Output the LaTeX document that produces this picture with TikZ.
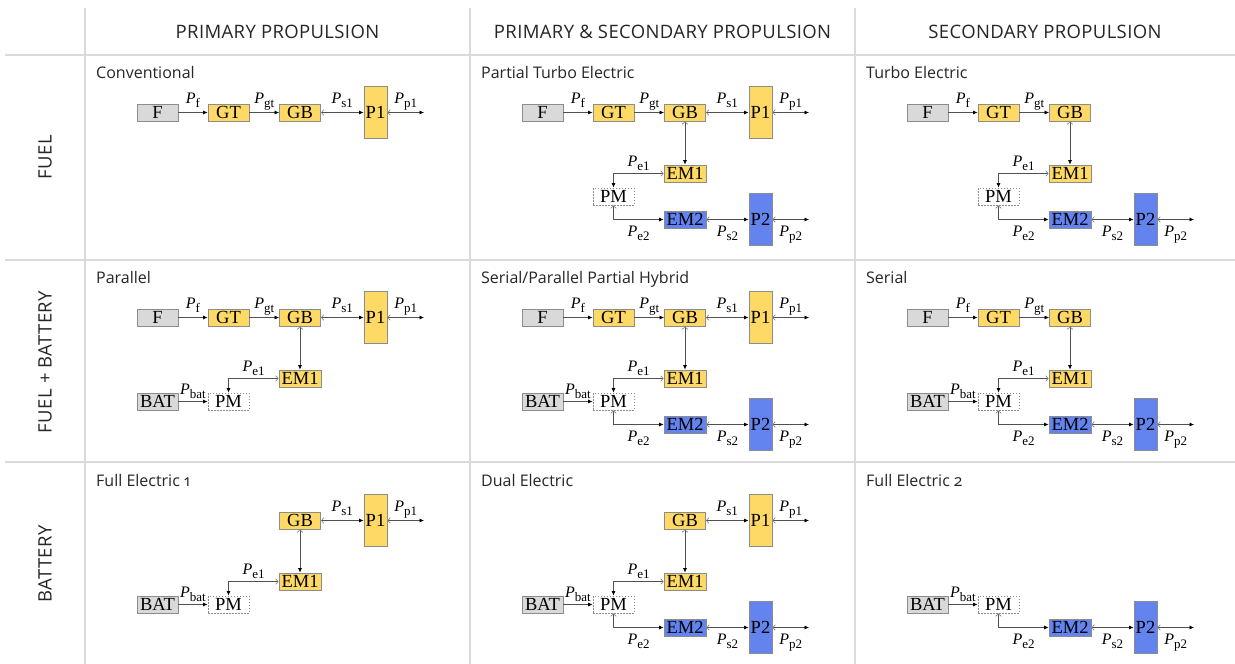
\documentclass[tikz,border=0pt]{standalone}
\usepackage{fontspec}
\setmainfont{Open Sans}[Numbers=OldStyle]
\newfontfamily\boxserif{Liberation Serif}
\usetikzlibrary{arrows.meta}
\definecolor{ylw}{HTML}{FFD966}
\definecolor{blu}{HTML}{6383EF}
\definecolor{gry}{HTML}{D9D9D9}
\definecolor{bord}{HTML}{8C8C8C}
\definecolor{gridc}{HTML}{DADADA}
\definecolor{lin}{HTML}{505050}
\definecolor{txt}{HTML}{262626}
\newcommand\Pl[1]{{\boxserif\fontsize{16}{16}\selectfont\itshape P}\raisebox{-3.5pt}{\boxserif\fontsize{13}{13}\selectfont #1}}
\tikzset{
  blk/.style={draw=bord, line width=0.8pt, inner sep=0pt, minimum width=41pt, minimum height=17pt, font=\boxserif\fontsize{18.5}{18.5}\selectfont},
  grybox/.style={blk, fill=gry},
  ylwbox/.style={blk, fill=ylw},
  blubox/.style={blk, fill=blu},
  pmbox/.style={blk, dash pattern=on 1.5pt off 1.5pt, fill=white},
  prop/.style={blk, minimum width=23pt, minimum height=52pt},
  uni/.style={draw=lin, line width=0.7pt, -{Latex[length=4.5pt,width=4pt,color=black]}},
  bi/.style={draw=lin, line width=0.7pt, {Straight Barb[length=2.5pt,width=5.5pt,line width=0.6pt,color=gray]}-{Latex[length=4.5pt,width=4pt,color=black]}},
  lab/.style={anchor=base, inner sep=0pt, yshift=9pt},
  labe/.style={anchor=base, inner sep=0pt, yshift=7pt},
  labb/.style={anchor=base, inner sep=0pt, yshift=-17pt},
  title/.style={anchor=base west, inner sep=0pt, text=txt, font=\fontsize{16}{16}\selectfont},
  hdr/.style={inner sep=0pt, text=txt, font=\fontsize{18.5}{18.5}\selectfont\addfontfeatures{LetterSpace=2}},
  gridline/.style={draw=gridc, line width=1.3pt},
}
\newcommand\partF[1]{%
  \node[grybox] (#1F) at (72.5,57.5) {F};
  \node[ylwbox] (#1GT) at (143.5,57.5) {GT};
  \draw[uni] (#1F) -- node[lab]{\Pl{f}} (#1GT);}
\newcommand\partGB[1]{\node[ylwbox] (#1GB) at (215,57.5) {GB};}
\newcommand\partGTGB[1]{\draw[uni] (#1GT) -- node[lab]{\Pl{gt}} (#1GB);}
\newcommand\partPone[1]{%
  \node[prop, fill=ylw] (#1P1) at (290.5,57.5) {P1};
  \coordinate (#1O1) at (339,57.5);
  \draw[bi] (#1GB) -- node[lab]{\Pl{s1}} (#1P1);
  \draw[bi] (#1P1) -- node[lab]{\Pl{p1}} (#1O1);}
\newcommand\partEMone[1]{%
  \node[ylwbox, minimum width=42pt] (#1EM1) at (215,118.5) {EM1};
  \draw[bi] (#1GB) -- (#1EM1);}
\newcommand\partPM[1]{\node[pmbox] (#1PM) at (143.5,141.5) {PM};}
\newcommand\partPeone[1]{\draw[bi] (#1EM1.west) -| node[labe, pos=0.25]{\Pl{e1}} (#1PM.north);}
\newcommand\partEMtwo[1]{%
  \node[blubox, minimum width=42pt] (#1EM2) at (215,164.5) {EM2};
  \node[prop, fill=blu] (#1P2) at (290.5,164.5) {P2};
  \coordinate (#1O2) at (339,164.5);
  \draw[bi] (#1PM.south) |- node[labb, pos=0.75]{\Pl{e2}} (#1EM2.west);
  \draw[bi] (#1EM2) -- node[labb]{\Pl{s2}} (#1P2);
  \draw[bi] (#1P2) -- node[labb]{\Pl{p2}} (#1O2);}
\newcommand\partBAT[1]{%
  \node[grybox] (#1BAT) at (72.5,141.5) {BAT};
  \draw[uni] (#1BAT) -- node[labe]{\Pl{bat}} (#1PM);}
\begin{document}
\begin{tikzpicture}[x=1pt, y=-1pt]
\useasboundingbox[fill=white] (0,0) rectangle (1235,664);
% grid
\draw[gridline] (85,8) -- (85,664);
\draw[gridline] (470,8) -- (470,664);
\draw[gridline] (855,8) -- (855,664);
\draw[gridline] (5,55) -- (1235,55);
\draw[gridline] (5,260) -- (1235,260);
\draw[gridline] (5,462) -- (1235,462);
% headers
\node[hdr] (h1) at (277.5,32) {PRIMARY PROPULSION};
\node[hdr] (h2) at (662.5,32) {PRIMARY \& SECONDARY PROPULSION};
\node[hdr] (h3) at (1045,32) {SECONDARY PROPULSION};
\node[hdr, rotate=90] (r1) at (45,157) {FUEL};
\node[hdr, rotate=90] (r2) at (45,362) {FUEL + BATTERY};
\node[hdr, rotate=90] (r3) at (45,564) {BATTERY};
% row 1
\begin{scope}[shift={(85,55)}]
  \node[title] (t11) at (11,23) {Conventional};
  \partF{a}\partGB{a}\partGTGB{a}\partPone{a}
\end{scope}
\begin{scope}[shift={(470,55)}]
  \node[title] (t21) at (11,23) {Partial Turbo Electric};
  \partF{b}\partGB{b}\partGTGB{b}\partPone{b}\partEMone{b}\partPM{b}\partPeone{b}\partEMtwo{b}
\end{scope}
\begin{scope}[shift={(855,55)}]
  \node[title] (t31) at (11,23) {Turbo Electric};
  \partF{c}\partGB{c}\partGTGB{c}\partEMone{c}\partPM{c}\partPeone{c}\partEMtwo{c}
\end{scope}
% row 2
\begin{scope}[shift={(85,260)}]
  \node[title] (t12) at (11,23) {Parallel};
  \partF{d}\partGB{d}\partGTGB{d}\partPone{d}\partEMone{d}\partPM{d}\partPeone{d}\partBAT{d}
\end{scope}
\begin{scope}[shift={(470,260)}]
  \node[title] (t22) at (11,23) {Serial/Parallel Partial Hybrid};
  \partF{e}\partGB{e}\partGTGB{e}\partPone{e}\partEMone{e}\partPM{e}\partPeone{e}\partEMtwo{e}\partBAT{e}
\end{scope}
\begin{scope}[shift={(855,260)}]
  \node[title] (t32) at (11,23) {Serial};
  \partF{f}\partGB{f}\partGTGB{f}\partEMone{f}\partPM{f}\partPeone{f}\partEMtwo{f}\partBAT{f}
\end{scope}
% row 3
\begin{scope}[shift={(85,463)}]
  \node[title] (t13) at (11,23) {Full Electric 1};
  \partGB{g}\partPone{g}\partEMone{g}\partPM{g}\partPeone{g}\partBAT{g}
\end{scope}
\begin{scope}[shift={(470,463)}]
  \node[title] (t23) at (11,23) {Dual Electric};
  \partGB{h}\partPone{h}\partEMone{h}\partPM{h}\partPeone{h}\partEMtwo{h}\partBAT{h}
\end{scope}
\begin{scope}[shift={(855,463)}]
  \node[title] (t33) at (11,23) {Full Electric 2};
  \partPM{i}\partEMtwo{i}\partBAT{i}
\end{scope}
\end{tikzpicture}
\end{document}
